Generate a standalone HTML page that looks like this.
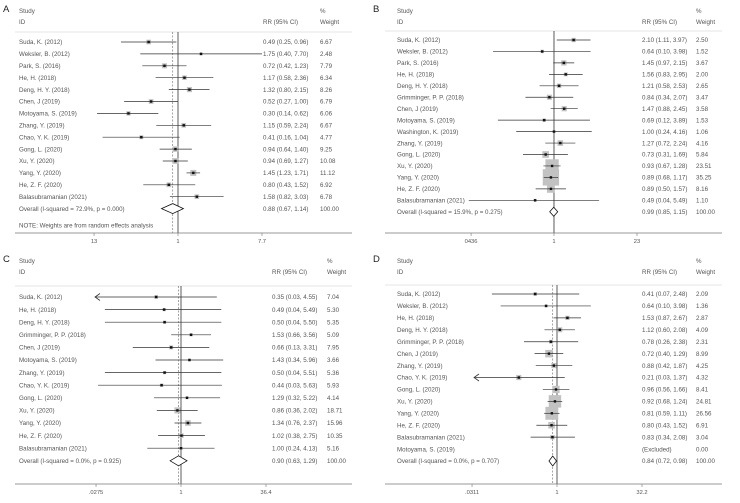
<!DOCTYPE html>
<html><head><meta charset="utf-8"><style>
html,body{margin:0;padding:0;background:#fff;}
svg{display:block;font-family:"Liberation Sans",sans-serif;}
text{fill:#555;font-size:6.2px;}
</style></head><body>
<svg id="fig" width="740" height="503" viewBox="0 0 740 503" xmlns="http://www.w3.org/2000/svg"></svg>
<script>
// Panel A
const aStudies=["Suda, K. (2012)","Weksler, B. (2012)","Park, S. (2016)","He, H. (2018)","Deng, H. Y. (2018)","Chen, J (2019)","Motoyama, S. (2019)","Zhang, Y. (2019)","Chao, Y. K. (2019)","Gong, L. (2020)","Xu, Y. (2020)","Yang, Y. (2020)","He, Z. F. (2020)","Balasubramanian (2021)"];
const aRR=[0.49,1.75,0.72,1.17,1.32,0.52,0.30,1.15,0.41,0.94,0.94,1.45,0.80,1.58];
const aLo=[0.25,0.40,0.42,0.58,0.80,0.27,0.14,0.59,0.16,0.64,0.69,1.23,0.43,0.82];
const aHi=[0.96,7.70,1.23,2.36,2.15,1.00,0.62,2.24,1.04,1.40,1.27,1.71,1.52,3.03];
const aW=[6.67,2.48,7.79,6.34,8.26,6.79,6.06,6.67,4.77,9.25,10.08,11.12,6.92,6.78];
const aOverall=[0.88,0.67,1.14];
const aTicks=[0.13,1,7.7];
const aTickLabels=["13","1","7.7"];
// Panel B
const bStudies=["Suda, K. (2012)","Weksler, B. (2012)","Park, S. (2016)","He, H. (2018)","Deng, H. Y. (2018)","Grimminger, P. P. (2018)","Chen, J (2019)","Motoyama, S. (2019)","Washington, K. (2019)","Zhang, Y. (2019)","Gong, L. (2020)","Xu, Y. (2020)","Yang, Y. (2020)","He, Z. F. (2020)","Balasubramanian (2021)"];
const bRR=[2.10,0.64,1.45,1.56,1.21,0.84,1.47,0.69,1.00,1.27,0.73,0.93,0.89,0.89,0.49];
const bLo=[1.11,0.10,0.97,0.83,0.58,0.34,0.88,0.12,0.24,0.72,0.31,0.67,0.68,0.50,0.04];
const bHi=[3.97,3.98,2.15,2.95,2.53,2.07,2.45,3.89,4.16,2.24,1.69,1.28,1.17,1.57,5.49];
const bW=[2.50,1.52,3.67,2.00,2.65,3.47,3.58,1.53,1.06,4.16,5.84,23.51,35.25,8.16,1.10];
const bOverall=[0.99,0.85,1.15];
const bTicks=[0.0436,1,23];
const bTickLabels=["0436","1","23"];
// Panel C
const cStudies=["Suda, K. (2012)","He, H. (2018)","Deng, H. Y. (2018)","Grimminger, P. P. (2018)","Chen, J (2019)","Motoyama, S. (2019)","Zhang, Y. (2019)","Chao, Y. K. (2019)","Gong, L. (2020)","Xu, Y. (2020)","Yang, Y. (2020)","He, Z. F. (2020)","Balasubramanian (2021)"];
const cRR=[0.35,0.49,0.50,1.53,0.66,1.43,0.50,0.44,1.29,0.86,1.34,1.02,1.00];
const cLo=[0.03,0.04,0.04,0.66,0.13,0.34,0.04,0.03,0.32,0.36,0.76,0.38,0.24];
const cHi=[4.55,5.49,5.50,3.56,3.31,5.96,5.51,5.63,5.22,2.02,2.37,2.75,4.13];
const cW=[7.04,5.30,5.35,5.09,7.95,3.66,5.36,5.93,4.14,18.71,15.96,10.35,5.16];
const cOverall=[0.90,0.63,1.29];
const cTicks=[0.0275,1,36.4];
const cTickLabels=[".0275","1","36.4"];
// Panel D
const dStudies=["Suda, K. (2012)","Weksler, B. (2012)","He, H. (2018)","Deng, H. Y. (2018)","Grimminger, P. P. (2018)","Chen, J (2019)","Zhang, Y. (2019)","Chao, Y. K. (2019)","Gong, L. (2020)","Xu, Y. (2020)","Yang, Y. (2020)","He, Z. F. (2020)","Balasubramanian (2021)","Motoyama, S. (2019)"];
const dRR=[0.41,0.64,1.53,1.12,0.78,0.72,0.88,0.21,0.96,0.92,0.81,0.80,0.83,null];
const dLo=[0.07,0.10,0.87,0.60,0.26,0.40,0.42,0.03,0.56,0.68,0.59,0.43,0.34,null];
const dHi=[2.48,3.98,2.67,2.08,2.38,1.29,1.87,1.37,1.66,1.24,1.11,1.52,2.08,null];
const dW=[2.09,1.36,2.87,4.09,2.31,8.99,4.25,4.32,8.41,24.81,26.56,6.91,3.04,0.00];
const dOverall=[0.84,0.72,0.98];
const dTicks=[0.0311,1,32.2];
const dTickLabels=[".0311","1","32.2"];

const NS="http://www.w3.org/2000/svg";
const svg=document.getElementById('fig');
function mk(tag,attrs,parent){const e=document.createElementNS(NS,tag);for(const k in attrs)e.setAttribute(k,attrs[k]);(parent||svg).appendChild(e);return e;}
function f2(v){return v.toFixed(2);}

function panel(cfg){
  const g=mk('g',{});
  
  
  const ox=cfg.ox, oy=cfg.oy;
  const xs=v=>cfg.cx+cfg.k*Math.log(v);
  let t=mk('text',{x:ox+3,y:oy+12,style:'font-size:9.5px;fill:#222'},g);t.textContent=cfg.letter;
  
  
  t=mk('text',{x:cfg.lx,y:oy+13},g);t.textContent='Study';
  
  
  t=mk('text',{x:cfg.lx,y:oy+24},g);t.textContent='ID';
  
  
  t=mk('text',{x:cfg.rrx,y:oy+24},g);t.textContent='RR (95% CI)';
  
  
  t=mk('text',{x:cfg.wx,y:oy+13},g);t.textContent='%';
  
  
  t=mk('text',{x:cfg.wx,y:oy+24},g);t.textContent='Weight';
  
  
  let l=mk('line',{x1:ox+15,x2:ox+352,y1:cfg.hy,y2:cfg.hy,stroke:'#e4e4e4','stroke-width':1},g);
  
  
  l=mk('line',{x1:xs(1),x2:xs(1),y1:cfg.hy,y2:cfg.ay,stroke:'#333','stroke-width':0.8},g);
  
  
  l=mk('line',{x1:xs(cfg.overall[0]),x2:xs(cfg.overall[0]),y1:cfg.hy,y2:cfg.ay,stroke:'#666','stroke-width':0.6,'stroke-dasharray':'2,1.5'},g);
  
  
  const n=cfg.studies.length;
  for(let i=0;i<n;i++){
    const y=cfg.y0+i*cfg.dy;
    t=mk('text',{x:cfg.lx,y:y+2.2},g);t.textContent=cfg.studies[i];
    
    
    t=mk('text',{x:cfg.wx,y:y+2.2},g);t.textContent=f2(cfg.w[i]);
    
    
    t=mk('text',{x:cfg.rrx,y:y+2.2},g);
    
    
    if(cfg.rr[i]==null){t.textContent='(Excluded)';continue;}
    t.textContent=f2(cfg.rr[i])+' ('+f2(cfg.lo[i])+', '+f2(cfg.hi[i])+')';
    const s=cfg.bk*Math.sqrt(cfg.w[i]);
    const b=mk('rect',{x:xs(cfg.rr[i])-s/2,y:y-s/2,width:s,height:s,fill:'#c2c2c2'},g);
    
    
    const arrow=cfg.arrows.includes(i);
    const x1=arrow?cfg.ax0:xs(cfg.lo[i]);
    l=mk('line',{x1:x1,x2:xs(cfg.hi[i]),y1:y,y2:y,stroke:'#333','stroke-width':0.7},g);
    
    
    if(arrow){
      const a=mk('polyline',{points:(x1+5)+','+(y-3.5)+' '+x1+','+y+' '+(x1+5)+','+(y+3.5),fill:'none',stroke:'#333','stroke-width':0.8},g);
      
      
    }
    const d=mk('rect',{x:xs(cfg.rr[i])-1.2,y:y-1.2,width:2.4,height:2.4,fill:'#111'},g);
    
    
  }
  const oyy=cfg.y0+n*cfg.dy;
  t=mk('text',{x:cfg.lx,y:oyy+2.2},g);t.textContent=cfg.overallLabel;
  
  
  t=mk('text',{x:cfg.rrx,y:oyy+2.2},g);t.textContent=f2(cfg.overall[0])+' ('+f2(cfg.overall[1])+', '+f2(cfg.overall[2])+')';
  
  
  t=mk('text',{x:cfg.wx,y:oyy+2.2},g);t.textContent='100.00';
  
  
  const dh=cfg.dh;
  const dm=mk('polygon',{points:xs(cfg.overall[1])+','+oyy+' '+xs(cfg.overall[0])+','+(oyy-dh)+' '+xs(cfg.overall[2])+','+oyy+' '+xs(cfg.overall[0])+','+(oyy+dh),fill:'#fff',stroke:'#111','stroke-width':0.8},g);
  
  
  if(cfg.note){t=mk('text',{x:cfg.lx,y:oyy+19},g);t.textContent=cfg.note;
    
    }
  l=mk('line',{x1:ox+15,x2:ox+352,y1:cfg.ay,y2:cfg.ay,stroke:'#777','stroke-width':0.7},g);
  
  
  for(let j=0;j<cfg.ticks.length;j++){
    const x=xs(cfg.ticks[j]);
    l=mk('line',{x1:x,x2:x,y1:cfg.ay,y2:cfg.ay+3,stroke:'#777','stroke-width':0.6},g);
    
    
    t=mk('text',{x:x,y:cfg.ay+10,'text-anchor':'middle',style:'font-size:5.8px'},g);t.textContent=cfg.tickLabels[j];
    
    
  }
}
function kOf(ticks,px){return px/Math.log(ticks[2]);}
panel({letter:'A',ox:0,oy:0,lx:19,rrx:263,wx:320,hy:32,y0:42,dy:11.9,ay:233,cx:178,k:kOf(aTicks,84),bk:1.8,dh:5,
  studies:aStudies,rr:aRR,lo:aLo,hi:aHi,w:aW,overall:aOverall,ticks:aTicks,tickLabels:aTickLabels,arrows:[],
  overallLabel:'Overall  (I-squared = 72.9%, p = 0.000)',note:'NOTE: Weights are from random effects analysis'});
panel({letter:'B',ox:370,oy:0,lx:397,rrx:642,wx:696,hy:31,y0:40,dy:11.45,ay:233,cx:554,k:kOf(bTicks,83),bk:2.75,dh:4.5,
  studies:bStudies,rr:bRR,lo:bLo,hi:bHi,w:bW,overall:bOverall,ticks:bTicks,tickLabels:bTickLabels,arrows:[],
  overallLabel:'Overall  (I-squared = 15.9%, p = 0.275)'});
panel({letter:'C',ox:0,oy:250,lx:19,rrx:272,wx:327,hy:286,y0:297,dy:12.6,ay:484,cx:181,k:kOf(cTicks,85),bk:1.4,dh:5,ax0:95,
  studies:cStudies,rr:cRR,lo:cLo,hi:cHi,w:cW,overall:cOverall,ticks:cTicks,tickLabels:cTickLabels,arrows:[0],
  overallLabel:'Overall  (I-squared = 0.0%, p = 0.925)'});
panel({letter:'D',ox:370,oy:250,lx:397,rrx:642,wx:696,hy:285,y0:294,dy:11.93,ay:484,cx:557,k:kOf(dTicks,85),bk:2.5,dh:5,ax0:474,
  studies:dStudies,rr:dRR,lo:dLo,hi:dHi,w:dW,overall:dOverall,ticks:dTicks,tickLabels:dTickLabels,arrows:[7],
  overallLabel:'Overall  (I-squared = 0.0%, p = 0.707)'});
</script>
</body></html>
